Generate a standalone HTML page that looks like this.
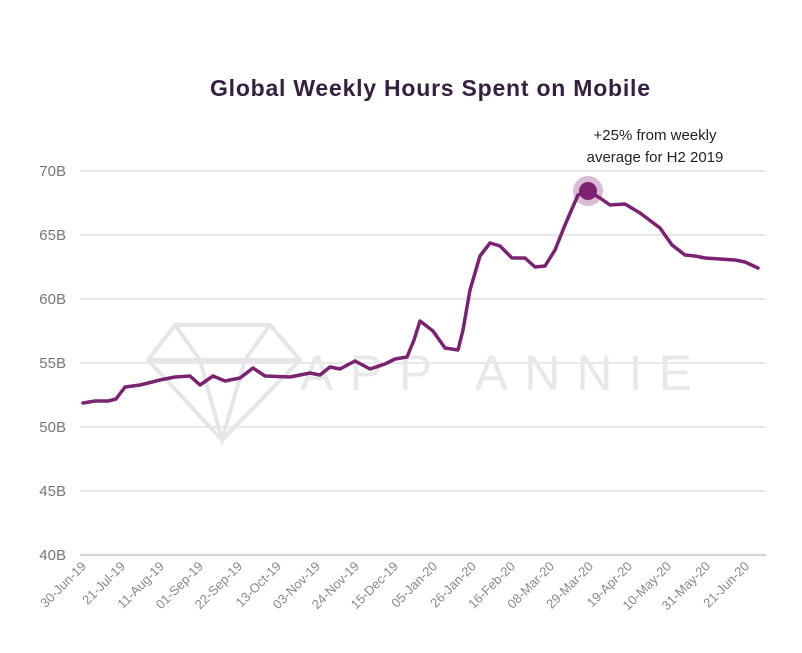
<!DOCTYPE html>
<html><head><meta charset="utf-8"><style>
body{margin:0;background:#fff;}
svg{display:block;font-family:"Liberation Sans",sans-serif;}
</style></head><body>
<svg width="802" height="653" viewBox="0 0 802 653">
<text x="430" y="96" text-anchor="middle" font-size="23" font-weight="bold" fill="#35203f" textLength="440">Global Weekly Hours Spent on Mobile</text>
<g stroke="#d0d0d0" stroke-width="1">
<line x1="80" x2="766" y1="171" y2="171"/><line x1="80" x2="766" y1="235" y2="235"/>
<line x1="80" x2="766" y1="299" y2="299"/><line x1="80" x2="766" y1="363" y2="363"/>
<line x1="80" x2="766" y1="427" y2="427"/><line x1="80" x2="766" y1="491" y2="491"/>
<line x1="80" x2="766" y1="555" y2="555" stroke="#aaa"/>
</g>
<g font-size="15" fill="#777" text-anchor="end">
<text x="66" y="176">70B</text><text x="66" y="240">65B</text><text x="66" y="304">60B</text>
<text x="66" y="368">55B</text><text x="66" y="432">50B</text><text x="66" y="496">45B</text><text x="66" y="560">40B</text>
</g>
<g fill="none" stroke="#e6e6ea" stroke-width="4">
<polygon points="175,325 270,325 300,360 222,440 148,360"/>
<polyline points="148,360 300,360"/><polyline points="175,325 200,360 222,440 245,360 270,325"/>
</g>
<text x="300" y="390" font-size="50" fill="#e8e8ec" textLength="392" lengthAdjust="spacing">APP ANNIE</text>
<g font-size="13" fill="#888" text-anchor="end">
<text transform="translate(87,567) rotate(-45)">30-Jun-19</text>
<text transform="translate(126,567) rotate(-45)">21-Jul-19</text>
<text transform="translate(165,567) rotate(-45)">11-Aug-19</text>
<text transform="translate(204,567) rotate(-45)">01-Sep-19</text>
<text transform="translate(243,567) rotate(-45)">22-Sep-19</text>
<text transform="translate(282,567) rotate(-45)">13-Oct-19</text>
<text transform="translate(321,567) rotate(-45)">03-Nov-19</text>
<text transform="translate(360,567) rotate(-45)">24-Nov-19</text>
<text transform="translate(399,567) rotate(-45)">15-Dec-19</text>
<text transform="translate(438,567) rotate(-45)">05-Jan-20</text>
<text transform="translate(477,567) rotate(-45)">26-Jan-20</text>
<text transform="translate(516,567) rotate(-45)">16-Feb-20</text>
<text transform="translate(555,567) rotate(-45)">08-Mar-20</text>
<text transform="translate(594,567) rotate(-45)">29-Mar-20</text>
<text transform="translate(633,567) rotate(-45)">19-Apr-20</text>
<text transform="translate(672,567) rotate(-45)">10-May-20</text>
<text transform="translate(711,567) rotate(-45)">31-May-20</text>
<text transform="translate(750,567) rotate(-45)">21-Jun-20</text>
</g>
<polyline fill="none" stroke="#7b2270" stroke-width="3.5" stroke-linejoin="round" stroke-linecap="round"
points="83,403 95,401 108,401 116,399 125,387 140,385 160,380 175,377 190,376 200,385 213,376 225,381 240,378 253,368 265,376 290,377 310,373 320,375 330,367 340,369 355,361 370,369 385,364 395,359 407,357 414,340 420,321 433,331 445,348 458,350 463,330 470,290 480,256 490,243 500,246 512,258 525,258 535,267 545,266 555,250 565,225 578,195 588,191 600,198 610,205 625,204 640,213 660,228 672,245 685,255 695,256 705,258 720,259 735,260 745,262 758,268"/>
<circle cx="588" cy="191" r="15" fill="#7b2270" opacity="0.3"/>
<circle cx="588" cy="191" r="9" fill="#7b2270"/>
<g font-size="15" fill="#222" text-anchor="middle">
<text x="655" y="140">+25% from weekly</text>
<text x="655" y="162">average for H2 2019</text>
</g>
</svg>
</body></html>
